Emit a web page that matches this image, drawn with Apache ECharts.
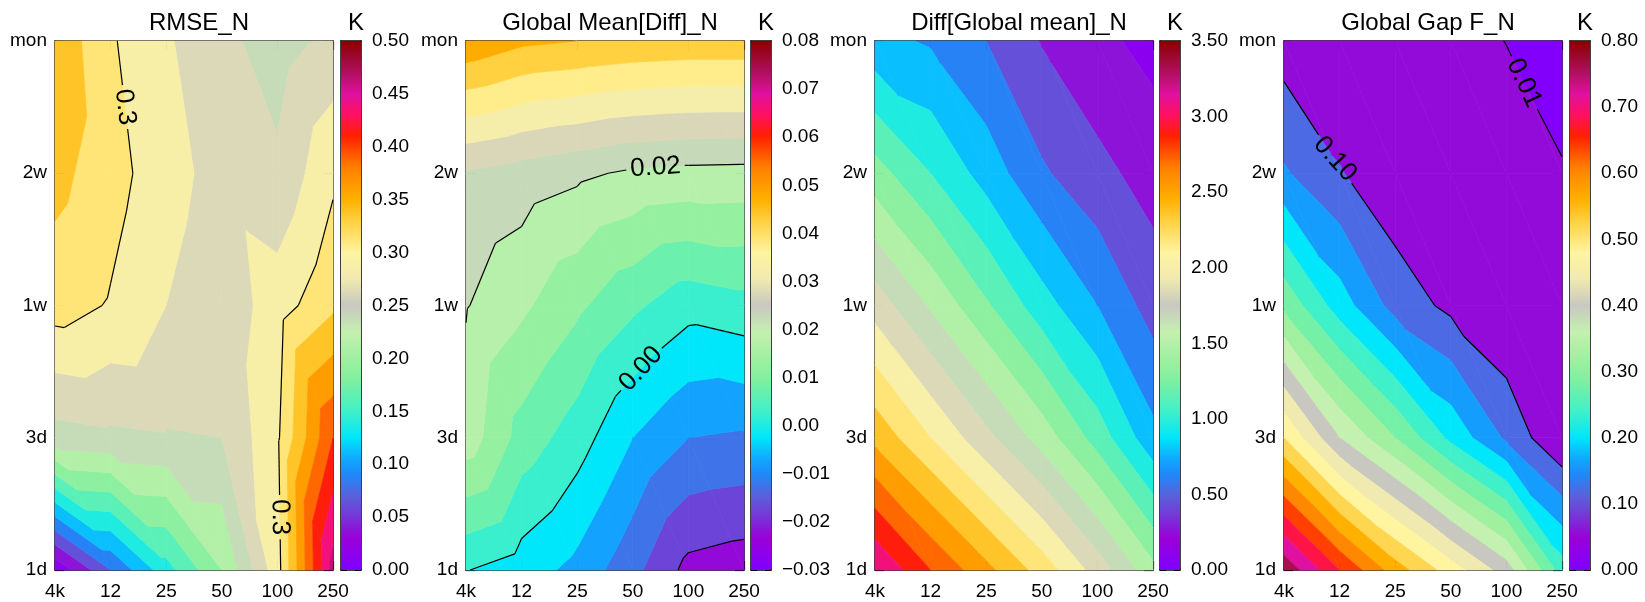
<!DOCTYPE html>
<html>
<head>
<meta charset="utf-8">
<title>contour panels</title>
<script src="https://cdn.jsdelivr.net/npm/echarts@6/dist/echarts.min.js"></script>
<style>
  html, body { margin: 0; padding: 0; background: #fff; }
  #chart { width: 1645px; height: 602px; }
</style>
</head>
<body>
<div id="chart"></div>
<script>
// axis categories
const xLabels = ['4k', '12', '25', '50', '100', '250'];
const yLabels = ['1d', '3d', '1w', '2w', 'mon'];

// grid values, one row per lead time (1d first, mon last), one column per resolution
const rmseN = [
  [0.005, 0.075, 0.140, 0.200, 0.290, 0.460],
  [0.240, 0.245, 0.248, 0.250, 0.296, 0.400],
  [0.311, 0.298, 0.275, 0.258, 0.288, 0.320],
  [0.333, 0.310, 0.285, 0.265, 0.255, 0.295],
  [0.345, 0.303, 0.278, 0.257, 0.238, 0.258]
];
const meanDiffN = [
  [0.0002, -0.0025, -0.0065, -0.0135, -0.0215, -0.0228],
  [0.018, 0.008, 0.0024, -0.005, -0.010, -0.0107],
  [0.0203, 0.016, 0.011, 0.006, 0.0018, 0.0032],
  [0.0245, 0.0227, 0.021, 0.0192, 0.0185, 0.0183],
  [0.049, 0.046, 0.045, 0.044, 0.0435, 0.0435]
];
const diffMeanN = [
  [3.15, 2.80, 2.50, 2.20, 1.85, 1.45],
  [2.40, 2.10, 1.80, 1.50, 1.15, 0.75],
  [1.85, 1.55, 1.25, 0.95, 0.70, 0.45],
  [1.30, 1.05, 0.80, 0.55, 0.40, 0.28],
  [0.75, 0.68, 0.525, 0.34, 0.22, 0.12]
];
const gapFN = [
  [0.770, 0.660, 0.560, 0.480, 0.400, 0.240],
  [0.500, 0.380, 0.300, 0.210, 0.133, 0.0605],
  [0.290, 0.200, 0.1245, 0.090, 0.060, 0.035],
  [0.145, 0.103, 0.070, 0.045, 0.025, 0.011],
  [0.080, 0.060, 0.040, 0.020, 0.0095, 0.003]
];

function range(a, b, d) {
  const out = [];
  for (let k = 0; a + k * d <= b + 1e-9; k++) out.push(+(a + k * d).toFixed(6));
  return out;
}

// contour levels for the filled bands
const rmseLevels = range(0, 0.5, 0.025);
const meanDiffLevels = range(-0.03, 0.08, 0.005);
const diffMeanLevels = range(0, 3.5, 0.175);
const gapLevels = [0, 0.01].concat(range(0.10, 0.78, 0.04), [0.8]);

// colour table (fraction of colour bar range -> colour)
const cmapStops = [
  [0.00, '#7f00ff'], [0.06, '#9a00d8'], [0.11, '#7040d8'], [0.14, '#5a60dc'],
  [0.18, '#2088f8'], [0.21, '#10a8ff'], [0.25, '#00e6fa'], [0.30, '#40f0c8'],
  [0.36, '#80f0a0'], [0.40, '#a0f0a0'], [0.45, '#c4f0b0'], [0.50, '#c8c8c0'],
  [0.55, '#f0eab0'], [0.60, '#fff4a0'], [0.66, '#ffd040'], [0.70, '#ffb000'],
  [0.76, '#ff8000'], [0.82, '#ff2000'], [0.86, '#ff1060'], [0.90, '#e010a0'],
  [0.94, '#b01060'], [1.00, '#8b0000']
];

const fontFamily = '"Liberation Sans", Arial, Helvetica, sans-serif';

const panels = [
  { title: 'RMSE_N', grid: rmseN, levels: rmseLevels, min: 0, max: 0.5, step: 0.05,
    left: 55, cbLeft: 341,
    lines: [{ level: 0.3, labels: [{ text: '0.3', near: [1.25, 3.5] }, { text: '0.3', near: [4.1, 0.4] }] }] },
  { title: 'Global Mean[Diff]_N', grid: meanDiffN, levels: meanDiffLevels, min: -0.03, max: 0.08, step: 0.01,
    left: 466, cbLeft: 751,
    lines: [
      { level: 0.02, labels: [{ text: '0.02', near: [3.4, 3.1] }] },
      { level: 0.0, labels: [{ text: '0.00', near: [3.2, 1.5] }] },
      { level: -0.02, labels: [] }
    ] },
  { title: 'Diff[Global mean]_N', grid: diffMeanN, levels: diffMeanLevels, min: 0, max: 3.5, step: 0.5,
    left: 875, cbLeft: 1160, lines: [] },
  { title: 'Global Gap F_N', grid: gapFN, levels: gapLevels, min: 0, max: 0.8, step: 0.1,
    left: 1284, cbLeft: 1570,
    lines: [
      { level: 0.10, labels: [{ text: '0.10', near: [0.9, 3.1] }] },
      { level: 0.01, labels: [{ text: '0.01', near: [4.4, 3.7] }] }
    ] }
];

const plotTop = 41, plotHeight = 529, plotWidth = 278, cbWidth = 20;

function hexRgb(h) {
  return [parseInt(h.slice(1, 3), 16), parseInt(h.slice(3, 5), 16), parseInt(h.slice(5, 7), 16)];
}
function cmap(f) {
  f = Math.max(0, Math.min(1, f));
  for (let k = 1; k < cmapStops.length; k++) {
    if (f <= cmapStops[k][0]) {
      const [f0, c0] = cmapStops[k - 1], [f1, c1] = cmapStops[k];
      const t = (f - f0) / (f1 - f0);
      const a = hexRgb(c0), b = hexRgb(c1);
      return 'rgb(' + a.map((v, n) => Math.round(v + t * (b[n] - v))).join(',') + ')';
    }
  }
  return cmapStops[cmapStops.length - 1][1];
}

// keep the part of a polygon (points [x, y, value]) above / below a level
function clipPoly(poly, t, above) {
  const out = [];
  const inside = q => above ? q[2] >= t : q[2] <= t;
  for (let n = 0; n < poly.length; n++) {
    const a = poly[n], b = poly[(n + 1) % poly.length];
    const ia = inside(a), ib = inside(b);
    if (ia) out.push(a);
    if (ia !== ib) {
      const f = (t - a[2]) / (b[2] - a[2]);
      out.push([a[0] + f * (b[0] - a[0]), a[1] + f * (b[1] - a[1]), t]);
    }
  }
  return out;
}

function triangles(p, api, i, j) {
  const c = (a, b) => { const q = api.coord([a, b]); return [q[0], q[1], p.grid[b][a]]; };
  const A = c(i, j), B = c(i + 1, j), C = c(i, j + 1), D = c(i + 1, j + 1);
  return [[A, B, C], [B, D, C]];
}

function fillRenderer(p) {
  const colors = [];
  for (let k = 0; k < p.levels.length - 1; k++) {
    const mid = (p.levels[k] + p.levels[k + 1]) / 2;
    colors.push(cmap((mid - p.min) / (p.max - p.min)));
  }
  return function (params, api) {
    const i = api.value(0), j = api.value(1);
    const children = [];
    triangles(p, api, i, j).forEach(tri => {
      for (let k = 0; k < colors.length; k++) {
        let poly = tri;
        if (k > 0) poly = clipPoly(poly, p.levels[k], true);
        if (k < colors.length - 1) poly = clipPoly(poly, p.levels[k + 1], false);
        if (poly.length >= 3) {
          children.push({
            type: 'polygon',
            shape: { points: poly.map(q => [q[0], q[1]]) },
            style: { fill: colors[k], stroke: colors[k], lineWidth: 0.7 }
          });
        }
      }
    });
    return { type: 'group', children };
  };
}

function textWidth(s, size) {
  let w = 0;
  for (const ch of s) w += ch === '.' ? 0.278 : 0.556;
  return w * size;
}

function lineRenderer(p) {
  return function (params, api) {
    const children = [];
    const nx = xLabels.length - 1, ny = yLabels.length - 1;
    p.lines.forEach(def => {
      const t = def.level;
      let segs = [];
      for (let i = 0; i < nx; i++) {
        for (let j = 0; j < ny; j++) {
          triangles(p, api, i, j).forEach(tri => {
            const pts = [];
            for (let n = 0; n < 3; n++) {
              const a = tri[n], b = tri[(n + 1) % 3];
              if ((a[2] > t) !== (b[2] > t)) {
                const f = (t - a[2]) / (b[2] - a[2]);
                pts.push([a[0] + f * (b[0] - a[0]), a[1] + f * (b[1] - a[1])]);
              }
            }
            if (pts.length === 2) segs.push(pts);
          });
        }
      }
      // place labels on the nearest piece of line and cut a gap around them
      def.labels.forEach(lab => {
        const h = api.coord(lab.near);
        let best = null, bestD = Infinity;
        segs.forEach(s => {
          const dx = s[1][0] - s[0][0], dy = s[1][1] - s[0][1];
          const L = dx * dx + dy * dy || 1;
          let u = ((h[0] - s[0][0]) * dx + (h[1] - s[0][1]) * dy) / L;
          u = Math.max(0, Math.min(1, u));
          const q = [s[0][0] + u * dx, s[0][1] + u * dy];
          const d = Math.hypot(q[0] - h[0], q[1] - h[1]);
          if (d < bestD) { bestD = d; best = { q, dx, dy }; }
        });
        if (!best) return;
        let a = Math.atan2(best.dy, best.dx);
        if (a > Math.PI / 2) a -= Math.PI;
        if (a <= -Math.PI / 2) a += Math.PI;
        const size = 26;
        const R = textWidth(lab.text, size) / 2 + 4;
        const cx = best.q[0], cy = best.q[1];
        const cut = [];
        segs.forEach(s => {
          const dx = s[1][0] - s[0][0], dy = s[1][1] - s[0][1];
          const fx = s[0][0] - cx, fy = s[0][1] - cy;
          const A = dx * dx + dy * dy, B = 2 * (fx * dx + fy * dy), C = fx * fx + fy * fy - R * R;
          const disc = B * B - 4 * A * C;
          if (A === 0 || disc <= 0) { cut.push(s); return; }
          const t1 = (-B - Math.sqrt(disc)) / (2 * A), t2 = (-B + Math.sqrt(disc)) / (2 * A);
          const at = u => [s[0][0] + u * dx, s[0][1] + u * dy];
          if (t1 > 0) cut.push([s[0], at(Math.min(t1, 1))]);
          if (t2 < 1) cut.push([at(Math.max(t2, 0)), s[1]]);
        });
        segs = cut;
        children.push({
          type: 'text', x: cx, y: cy, rotation: -a,
          style: { text: lab.text, fill: '#000', fontSize: size, fontFamily, align: 'center', verticalAlign: 'middle' }
        });
      });
      segs.forEach(s => {
        children.push({
          type: 'line',
          shape: { x1: s[0][0], y1: s[0][1], x2: s[1][0], y2: s[1][1] },
          style: { stroke: '#000', lineWidth: 1.2 }
        });
      });
    });
    return { type: 'group', children };
  };
}

function colorbarRenderer(p) {
  return function (params, api) {
    const top = api.coord([0, p.max]), bottom = api.coord([1, p.min]);
    return {
      type: 'rect',
      shape: { x: top[0], y: top[1], width: bottom[0] - top[0], height: bottom[1] - top[1] },
      style: {
        fill: new echarts.graphic.LinearGradient(0, 1, 0, 0,
          cmapStops.map(s => ({ offset: s[0], color: s[1] })))
      }
    };
  };
}

const frame = { show: true, onZero: false, lineStyle: { color: '#000', width: 1.5 } };
const labelStyle = { color: '#000', fontSize: 19, fontFamily };

const grids = [], xAxes = [], yAxes = [], series = [], titles = [];
const cells = [];
for (let i = 0; i < xLabels.length - 1; i++)
  for (let j = 0; j < yLabels.length - 1; j++) cells.push([i, j]);

panels.forEach((p, k) => {
  const g = 2 * k;
  grids.push({ left: p.left, top: plotTop, width: plotWidth, height: plotHeight });
  grids.push({ left: p.cbLeft, top: plotTop, width: cbWidth, height: plotHeight });

  const tick = { inside: true, length: 9, lineStyle: { color: '#000', width: 1.2 } };
  const xBase = { gridIndex: g, type: 'value', min: 0, max: xLabels.length - 1, interval: 1,
    axisLine: frame, splitLine: { show: false }, axisTick: tick };
  const yBase = { gridIndex: g, type: 'value', min: 0, max: yLabels.length - 1, interval: 1,
    axisLine: frame, splitLine: { show: false }, axisTick: tick };
  xAxes.push(Object.assign({}, xBase, { position: 'bottom',
    axisLabel: Object.assign({ margin: 12, formatter: v => xLabels[v] }, labelStyle) }));
  xAxes.push(Object.assign({}, xBase, { position: 'top', axisLabel: { show: false } }));
  yAxes.push(Object.assign({}, yBase, { position: 'left',
    axisLabel: Object.assign({ margin: 8, formatter: v => yLabels[v] }, labelStyle) }));
  yAxes.push(Object.assign({}, yBase, { position: 'right', axisLabel: { show: false } }));

  // colour bar axes
  const cbTick = { inside: true, length: 6, lineStyle: { color: '#000', width: 1 } };
  const cbMinor = { show: true, splitNumber: 5, length: 3, lineStyle: { color: '#000', width: 1 } };
  xAxes.push({ gridIndex: g + 1, type: 'value', min: 0, max: 1, position: 'bottom', axisLine: frame,
    axisTick: { show: false }, axisLabel: { show: false }, splitLine: { show: false } });
  xAxes.push({ gridIndex: g + 1, type: 'value', min: 0, max: 1, position: 'top', axisLine: frame,
    axisTick: { show: false }, axisLabel: { show: false }, splitLine: { show: false } });
  const cbY = { gridIndex: g + 1, type: 'value', min: p.min, max: p.max, interval: p.step,
    axisLine: frame, splitLine: { show: false }, minorSplitLine: { show: false },
    axisTick: cbTick, minorTick: cbMinor };
  yAxes.push(Object.assign({}, cbY, { position: 'left', axisLabel: { show: false } }));
  yAxes.push(Object.assign({}, cbY, { position: 'right',
    axisLabel: Object.assign({ margin: 11, showMinLabel: true, showMaxLabel: true,
      formatter: v => (v < -1e-9 ? '\u2212' : '') + Math.abs(v).toFixed(2) }, labelStyle) }));

  series.push({ type: 'custom', xAxisIndex: 4 * k, yAxisIndex: 4 * k, data: cells,
    renderItem: fillRenderer(p), silent: true, z: 1 });
  series.push({ type: 'custom', xAxisIndex: 4 * k, yAxisIndex: 4 * k, data: [[0, 0]],
    renderItem: lineRenderer(p), silent: true, z: 2 });
  series.push({ type: 'custom', xAxisIndex: 4 * k + 2, yAxisIndex: 4 * k + 3, data: [[0, p.min]],
    renderItem: colorbarRenderer(p), silent: true, z: 1 });

  titles.push({ text: p.title, left: p.left + plotWidth / 2, top: 6, textAlign: 'center',
    textStyle: { color: '#000', fontSize: 24, fontWeight: 'normal', fontFamily } });
  titles.push({ text: 'K', left: p.cbLeft + cbWidth / 2, top: 6, textAlign: 'center',
    textStyle: { color: '#000', fontSize: 24, fontWeight: 'normal', fontFamily } });
});

const chart = echarts.init(document.getElementById('chart'), null, { renderer: 'canvas' });
chart.setOption({
  animation: false,
  backgroundColor: '#fff',
  textStyle: { fontFamily },
  title: titles,
  grid: grids,
  xAxis: xAxes,
  yAxis: yAxes,
  series
});
window.addEventListener('resize', () => chart.resize());
</script>
</body>
</html>
